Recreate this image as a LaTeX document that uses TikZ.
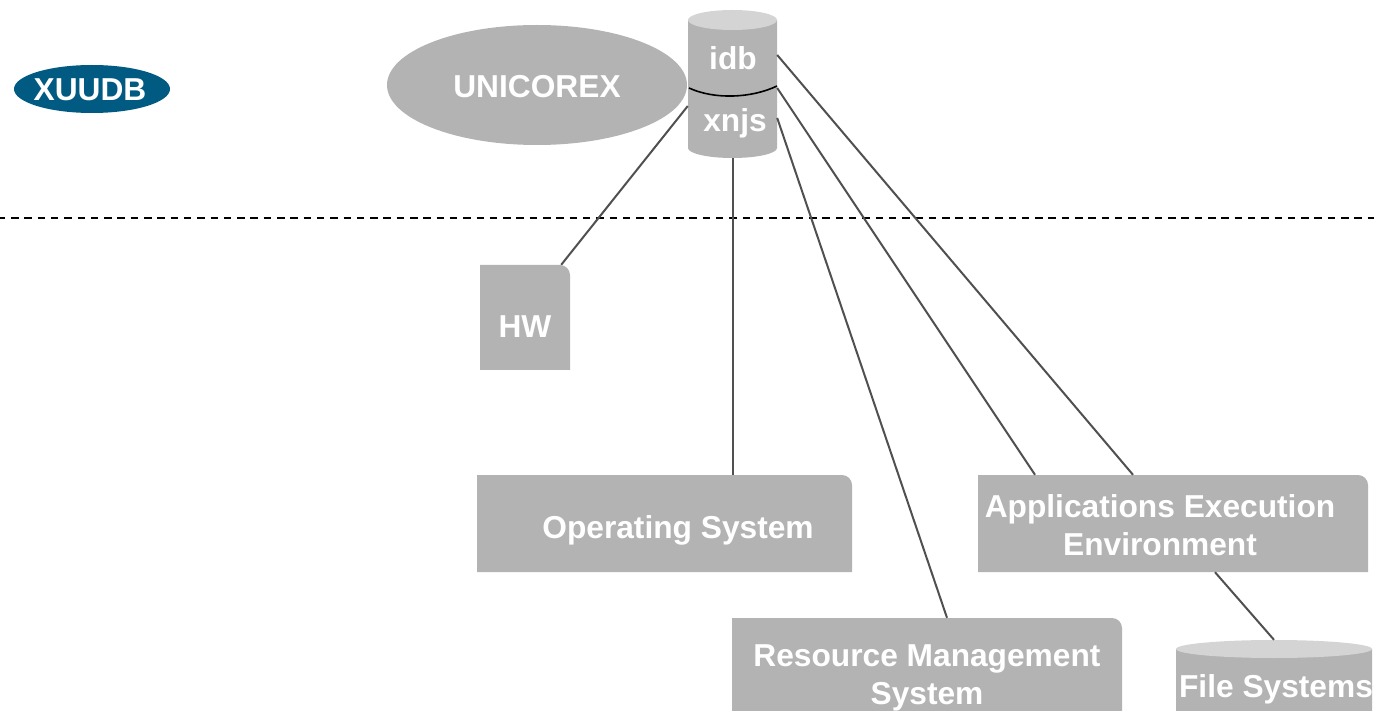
\documentclass[tikz,border=0pt]{standalone}
\usepackage{fontspec}
\setmainfont{Liberation Sans}
\usetikzlibrary{shapes.geometric,positioning}
\definecolor{boxgray}{HTML}{B3B3B3}
\definecolor{topgray}{HTML}{D4D4D4}
\definecolor{xuudbblue}{HTML}{005A82}
\definecolor{linkgray}{HTML}{505050}

% cylinder drawn by hand: left x, top y, right x, bottom y, end radius
\newcommand{\storeshape}[5]{%
  \fill[boxgray] (#1,#2+#5) -- (#1,#4-#5)
    arc[start angle=180, end angle=0, x radius={(#3-#1)/2}, y radius=#5]
    -- (#3,#2+#5) -- cycle;
  \fill[topgray] ({(#1+#3)/2},#2+#5) ellipse[x radius={(#3-#1)/2}, y radius=#5];
}

\tikzset{
  lbl/.style={text=white, font=\fontsize{31.7}{38}\selectfont\bfseries, align=center, inner sep=0},
  tab/.style={inner sep=0, path picture={
      \fill[boxgray] (path picture bounding box.south west) -- (path picture bounding box.north west)
        -- ([xshift=-10pt]path picture bounding box.north east)
        .. controls ([xshift=-4.5pt]path picture bounding box.north east) and ([yshift=-4.5pt]path picture bounding box.north east) ..
        ([yshift=-10pt]path picture bounding box.north east)
        -- (path picture bounding box.south east) -- cycle;}},
  store/.style={rectangle, inner sep=0},
  link/.style={linkgray, line width=2pt},
}

\begin{document}
\begin{tikzpicture}[x=1pt,y=-1pt]
  \useasboundingbox (0,0) rectangle (1374,711);

  % top row
  \node[ellipse, fill=xuudbblue, minimum width=156, minimum height=48, inner sep=0] (xuudb) at (92,89) {};
  \node[lbl] (xuudbtxt) at (90,90) {XUUDB};
  \node[ellipse, fill=boxgray, minimum width=300, minimum height=120, inner sep=0] (unicorex) at (537,85) {};
  \node[lbl] (unicorextxt) at (537,87) {UNICOREX};

  \storeshape{688}{10}{777}{158}{10}
  \node[store, minimum width=89, minimum height=148] (db) at (732.5,84) {};
  \draw[line width=1.6pt] (689,88) .. controls (715,100) and (752,98) .. (777,86);
  \node[lbl] (idb) at (733,58) {idb};
  \node[lbl] (xnjs) at (735,123) {xnjs};

  \draw[line width=2pt, dash pattern=on 7.5pt off 5.8pt, dash phase=-11pt] (0,218) -- (1374,218);

  % resources
  \node[tab, minimum width=90, minimum height=105] (hw) at (525,317.5) {};
  \node[lbl] (hwtxt) at (525,327) {HW};
  \node[tab, minimum width=375, minimum height=97] (os) at (664.5,523.5) {};
  \node[lbl] (ostxt) at (678,530) {Operating System};
  \node[tab, minimum width=390, minimum height=112] (rms) at (927,674) {};
  \node[lbl] (rmstxt) at (927,678) {Resource Management\\System};
  \node[tab, minimum width=390, minimum height=97] (aee) at (1173,523.5) {};
  \node[lbl] (aeetxt) at (1160,525) {Applications Execution\\Environment};
  \storeshape{1176}{640}{1372}{720}{9}
  \node[store, minimum width=196, minimum height=80] (fs) at (1274,680) {};
  \node[lbl] (fstxt) at (1276,689) {File Systems};

  % connections
  \draw[link] ([yshift=-22pt]db.west) -- ([xshift=-9pt]hw.north east);
  \draw[link] (db.south) -- (db.south |- os.north);
  \draw[link] ([yshift=-34pt]db.east) -- ([xshift=20pt]rms.north);
  \draw[link] ([yshift=-4pt]db.east) -- ([xshift=-138pt]aee.north);
  \draw[link] ([yshift=29pt]db.east) -- ([xshift=-40pt]aee.north);
  \draw[link] ([xshift=42pt]aee.south) -- (fs.north);
\end{tikzpicture}
\end{document}
